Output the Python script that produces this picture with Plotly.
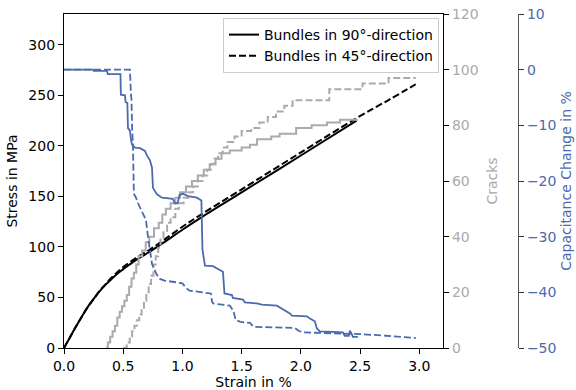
import plotly.graph_objects as go

# Stress-strain curves
strain_90 = [0, 0.05, 0.1, 0.15, 0.2, 0.26, 0.3, 0.35, 0.4, 0.45, 0.5, 0.6, 0.72, 0.85, 1.0, 1.15, 1.5, 2.0, 2.47]
stress_90 = [0, 10.5, 21, 31, 40.5, 50, 56, 62.5, 68, 73.5, 78, 86.5, 95, 105, 117, 128.5, 154, 190.5, 225]

strain_45 = [0, 0.05, 0.1, 0.15, 0.2, 0.26, 0.3, 0.35, 0.4, 0.45, 0.5, 0.6, 0.72, 0.85, 1.0, 1.15, 1.5, 2.0, 2.47, 2.75, 2.97]
stress_45 = [0, 10.5, 21, 31, 40.5, 50, 56.5, 63, 69.5, 75, 80, 88.5, 97, 107.5, 120, 131.5, 157, 193.5, 227.5, 246, 261]

# Crack counts (step functions)
crack_strain_90 = [0.355, 0.37, 0.39, 0.41, 0.43, 0.45, 0.47, 0.49, 0.51, 0.53, 0.55, 0.57, 0.59, 0.61, 0.63,
                   0.66, 0.69, 0.72, 0.76, 0.80, 0.83, 0.86, 0.90, 0.94, 0.98, 1.03, 1.08, 1.13, 1.18, 1.23,
                   1.28, 1.33, 1.40, 1.50, 1.57, 1.63, 1.75, 1.82, 1.96, 2.09, 2.22, 2.33, 2.48]
cracks_90 = [0, 2, 4, 6, 8, 11, 13, 15, 17, 19, 22, 25, 27, 30, 33,
             35, 38, 40, 43, 45, 48, 50, 52, 54, 56, 58, 60, 62, 64, 66,
             68, 70, 71, 72, 73, 75, 76, 77, 79, 80, 81, 82, 82]

crack_strain_45 = [0.50, 0.53, 0.555, 0.575, 0.595, 0.615, 0.635, 0.655, 0.675, 0.695, 0.715, 0.735, 0.755,
                   0.775, 0.795, 0.815, 0.84, 0.87, 0.90, 0.94, 0.97, 1.01, 1.05, 1.09, 1.13, 1.17, 1.21,
                   1.24, 1.27, 1.30, 1.34, 1.38, 1.44, 1.50, 1.58, 1.65, 1.72, 1.79, 1.86, 1.93, 2.24,
                   2.52, 2.74, 2.97]
cracks_45 = [0, 2, 4, 6, 8, 10, 12, 14, 17, 20, 23, 26, 30,
             33, 36, 39, 42, 45, 47, 50, 52, 54, 56, 58, 60, 62, 64,
             66, 68, 70, 72, 74, 76, 78, 79, 81, 83, 85, 87, 89, 93,
             95, 97, 97]

# Capacitance change
cap_strain_90 = [0, 0.245, 0.25, 0.363, 0.37, 0.477, 0.48, 0.515, 0.52, 0.535, 0.54, 0.557, 0.565, 0.575,
                 0.6, 0.641, 0.684, 0.70, 0.726, 0.743, 0.751, 0.785, 0.827, 0.92, 0.935, 0.96, 0.975,
                 1.004, 1.046, 1.122, 1.16, 1.169, 1.19, 1.257, 1.342, 1.355, 1.418, 1.426, 1.511, 1.527,
                 1.629, 1.671, 1.797, 1.848, 1.907, 1.924, 2.051, 2.076, 2.118, 2.135, 2.16, 2.354, 2.371,
                 2.405, 2.414, 2.43, 2.439, 2.481]
cap_90 = [0, 0, -0.2, -0.2, -0.8, -0.8, -4.5, -4.6, -5.8, -6, -10.5, -11, -12.5, -13.5,
          -14, -14.1, -14.6, -15.4, -16.3, -17.6, -21.2, -22.4, -23, -23.2, -24, -24, -22.5,
          -22.3, -22.7, -23, -23.5, -32.3, -35.2, -35.3, -36.3, -40.2, -40.5, -41, -41.3, -41.8,
          -42, -42.2, -42.4, -43.1, -43.8, -44.2, -44.3, -44.7, -45.2, -46.5, -47, -47.2, -47.8,
          -47.8, -46.9, -47.5, -48, -48]

cap_strain_45 = [0, 0.557, 0.565, 0.57, 0.575, 0.582, 0.59, 0.608, 0.625, 0.641, 0.667, 0.692, 0.709, 0.726,
                 0.743, 0.78, 0.81, 0.85, 0.91, 0.95, 1.0, 1.03, 1.06, 1.15, 1.24, 1.25, 1.26, 1.40, 1.43,
                 1.45, 1.49, 1.57, 1.60, 1.95, 1.98, 2.02, 2.23, 2.50, 2.72, 2.97]
cap_45 = [0, 0, -4.4, -5.5, -10.4, -13.5, -22.3, -23, -24, -24.7, -25.8, -27, -30, -32.5,
          -34.9, -36.7, -37.6, -37.9, -38, -38.2, -38.4, -39.2, -39.7, -40, -40.2, -41.7, -42, -42.4, -43.3,
          -45, -45.3, -45.5, -46.2, -46.4, -46.9, -47.2, -47.3, -47.5, -47.8, -48.2]

BLUE = "#4c6aae"
GRAY = "#aaaaaa"
FONT = "DejaVu Sans"
FS = 14

fig = go.Figure()

fig.add_trace(go.Scatter(x=strain_90, y=stress_90, mode="lines", name="Bundles in 90°-direction",
                         line=dict(color="black", width=2), line_shape="spline", xaxis="x", yaxis="y"))
fig.add_trace(go.Scatter(x=strain_45, y=stress_45, mode="lines", name="Bundles in 45°-direction",
                         line=dict(color="black", width=2, dash="7px,3px"), line_shape="spline",
                         xaxis="x", yaxis="y"))

fig.add_trace(go.Scatter(x=crack_strain_90, y=cracks_90, mode="lines", showlegend=False,
                         line=dict(color=GRAY, width=2, shape="hv"), xaxis="x", yaxis="y2"))
fig.add_trace(go.Scatter(x=crack_strain_45, y=cracks_45, mode="lines", showlegend=False,
                         line=dict(color=GRAY, width=2, shape="hv", dash="7px,3px"), xaxis="x", yaxis="y2"))

fig.add_trace(go.Scatter(x=cap_strain_90, y=cap_90, mode="lines", showlegend=False,
                         line=dict(color=BLUE, width=1.8), xaxis="x", yaxis="y3"))
fig.add_trace(go.Scatter(x=cap_strain_45, y=cap_45, mode="lines", showlegend=False,
                         line=dict(color=BLUE, width=1.8, dash="7px,3px"), xaxis="x", yaxis="y3"))

plot_w = 576 - 64 - 58
x_end = 379 / plot_w

axis_common = dict(showgrid=False, zeroline=False, ticks="outside", ticklen=5, tickwidth=1.1,
                   showline=True, linewidth=1.2, automargin=False)

fig.update_layout(
    width=576, height=390,
    margin=dict(l=64, r=58, t=14, b=42),
    paper_bgcolor="white", plot_bgcolor="white",
    font=dict(family=FONT, size=FS, color="black"),
    xaxis=dict(domain=[0, x_end], range=[0, 3.2], dtick=0.5, tickformat=".1f",
               title=dict(text="Strain in %", standoff=4, font=dict(size=FS)),
               linecolor="black", tickcolor="black", mirror=True, **axis_common),
    yaxis=dict(range=[0, 330.5], dtick=50,
               title=dict(text="Stress in MPa", standoff=7, font=dict(size=FS)),
               linecolor="black", tickcolor="black", **axis_common),
    yaxis2=dict(range=[0, 120], dtick=20, overlaying="y", side="right", anchor="x",
                title=dict(text="Cracks", standoff=9, font=dict(size=FS, color=GRAY)),
                tickfont=dict(color=GRAY), linecolor="black", tickcolor="black", **axis_common),
    yaxis3=dict(range=[-50, 10], dtick=10, overlaying="y", side="right", anchor="free", position=1.0,
                title=dict(text="Capacitance Change in %", standoff=5, font=dict(size=FS, color=BLUE)),
                tickfont=dict(color=BLUE), linecolor="#555555", tickcolor="#333333", **axis_common),
    legend=dict(x=(439 - 64) / plot_w, xanchor="right", y=0.988, yanchor="top",
                bgcolor="rgba(255,255,255,0.85)", bordercolor="#cccccc", borderwidth=1,
                font=dict(size=FS), tracegroupgap=0),
)

fig.write_html("out.html")
